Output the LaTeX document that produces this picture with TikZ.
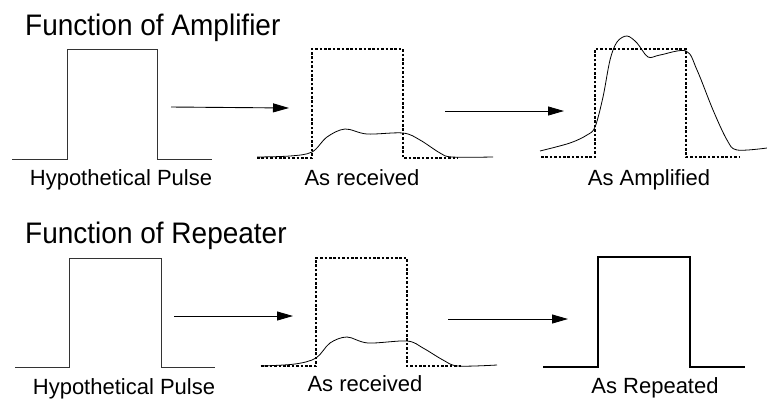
\documentclass[tikz,border=0pt]{standalone}
\usepackage{fontspec}
\setmainfont{Liberation Sans}
\usetikzlibrary{arrows.meta}
\begin{document}
\begin{tikzpicture}[x=1pt,y=-1pt,
  pulse/.style={draw=black!80,line width=1pt},
  bigpulse/.style={draw=black,line width=2.6pt},
  ideal/.style={draw=black,line width=2.7pt,dash pattern=on 2.6pt off 1.8pt},
  wave/.style={draw=black,line width=0.8pt},
  flow/.style={draw=black,line width=0.9pt,-{Triangle[length=16pt,width=9pt]}},
  title/.style={anchor=base west,inner sep=0pt,yscale=1.06,transform shape,font=\fontsize{28}{32}\selectfont},
  caption/.style={anchor=base,inner sep=0pt,font=\fontsize{22}{26}\selectfont}]
\useasboundingbox (0,0) rectangle (767,400);

% ---------- Amplifier ----------
\node[title] (t1) at (25,35) {Function of Amplifier};

\draw[pulse] (12,159) -- (67,159) -- (67,49) -- (157,49) -- (157,159) -- (212,159);
\node[caption] (c1) at (121,185) {Hypothetical Pulse};

\coordinate (a1s) at (171,107);
\coordinate (a1e) at (289,108);
\draw[flow] (a1s) -- (a1e);

\draw[ideal] (257,158) -- (312,158) -- (312,49) -- (403,49) -- (403,158) -- (458,158);
\draw[wave] plot[smooth,tension=0.55] coordinates {(257,157) (290,156) (312,152) (327,137) (345,129) (367,134) (403,133) (420,140) (440,153) (452,157) (493,157)};
\node[caption] (c2) at (362,185) {As received};

\coordinate (a2s) at (445,111);
\coordinate (a2e) at (564,111);
\draw[flow] (a2s) -- (a2e);

\draw[ideal] (541,157) -- (595,157) -- (595,49) -- (686,49) -- (686,157) -- (740,157);
\draw[wave] plot[smooth,tension=0.55] coordinates {(540,151) (570,143) (587,135) (595,127) (603,97) (610,60) (617,42) (627,36) (637,43) (648,57) (660,55) (686,51) (697,70) (713,110) (727,140) (737,150) (767,148)};
\node[caption] (c3) at (649,185) {As Amplified};

% ---------- Repeater ----------
\node[title] (t2) at (25,243) {Function of Repeater};

\draw[pulse] (15,367) -- (69,367) -- (69,258) -- (161,258) -- (161,367) -- (215,367);
\node[caption] (c4) at (124,394) {Hypothetical Pulse};

\coordinate (a3s) at (174,316);
\coordinate (a3e) at (293,316);
\draw[flow] (a3s) -- (a3e);

\draw[ideal] (261,366) -- (316,366) -- (316,258) -- (407,258) -- (407,366) -- (462,366);
\draw[wave] plot[smooth,tension=0.55] coordinates {(261,366) (295,364) (316,358) (330,343) (347,337) (368,343) (407,341) (423,348) (443,360) (458,366) (497,365)};
\node[caption] (c5) at (365,391) {As received};

\coordinate (a4s) at (448,319);
\coordinate (a4e) at (568,319);
\draw[flow] (a4s) -- (a4e);

\draw[bigpulse] (543,367) -- (598,367) -- (598,257) -- (690,257) -- (690,367) -- (745,367);
\node[caption] (c6) at (655,393) {As Repeated};
\end{tikzpicture}
\end{document}
